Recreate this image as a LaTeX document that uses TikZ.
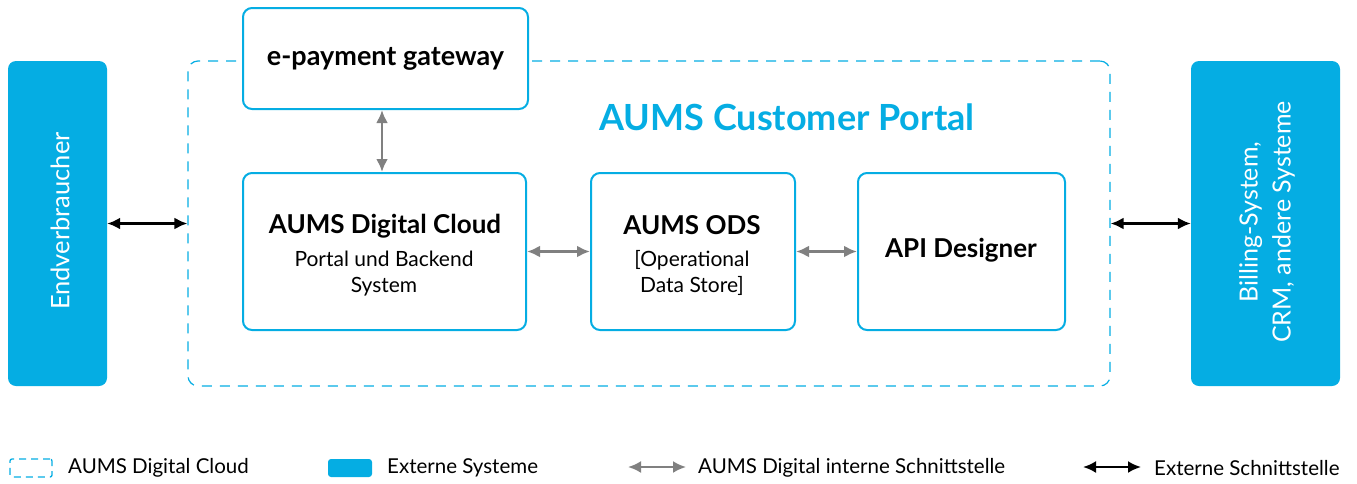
\documentclass[tikz,border=0pt]{standalone}
\usepackage{fontspec}
\setmainfont{Lato}
\usetikzlibrary{arrows.meta}
\definecolor{cy}{HTML}{05ADE3}
\definecolor{gr}{HTML}{808080}
\tikzset{
  ext/.style={rectangle, rounded corners=8pt, fill=cy, draw=none, text=white, inner sep=0pt},
  comp/.style={rectangle, rounded corners=9pt, draw=cy, line width=2pt, fill=white, inner sep=0pt, align=center},
  portalbox/.style={rectangle, rounded corners=10pt, draw=cy, line width=1.2pt, dash pattern=on 10pt off 8pt, inner sep=0pt},
  intarrow/.style={draw=gr, line width=2.6pt, {Latex[length=13pt,width=12pt]}-{Latex[length=13pt,width=12pt]}},
  extarrow/.style={draw=black, line width=2.4pt, {Latex[length=13pt,width=12pt]}-{Latex[length=13pt,width=12pt]}},
  ttl/.style={font=\bfseries\fontsize{26}{30}\selectfont},
  sub/.style={font=\fontsize{21}{26}\selectfont},
  leg/.style={font=\fontsize{20.5}{22}\selectfont, anchor=west, inner sep=0pt}
}
\begin{document}
\begin{tikzpicture}[x=1pt,y=-1pt]
\useasboundingbox (0,0) rectangle (1357,483);
% external systems
\node[ext, minimum width=99pt, minimum height=325pt] (endv) at (57.5,223.5) {};
\node[text=white, rotate=90, font=\fontsize{25.5}{28}\selectfont] (endvt) at (60,221) {Endverbraucher};
\node[ext, minimum width=149pt, minimum height=325pt] (bill) at (1265.5,223.5) {};
\node[text=white, rotate=90, align=center, font=\fontsize{25}{33}\selectfont] (billt) at (1267,222) {Billing-System,\\CRM, andere Systeme};
% portal
\node[portalbox, minimum width=922pt, minimum height=325pt] (portal) at (649,223.5) {};
\node[text=cy, font=\bfseries\fontsize{36}{40}\selectfont] (ptitle) at (787,117) {AUMS Customer Portal};
% components
\node[comp, minimum width=285pt, minimum height=101pt] (epay) at (385.5,58.5) {\textbf{\fontsize{27}{30}\selectfont e-payment gateway}};
\node[comp, minimum width=283pt, minimum height=157pt] (adc) at (384.5,251.5) {};
\node[ttl] (adct) at (385,226) {AUMS Digital Cloud};
\node[sub, align=center] (adcs) at (384,274) {Portal und Backend\\System};
\node[comp, minimum width=204pt, minimum height=157pt] (ods) at (693,251.5) {};
\node[ttl] (odst) at (692,225) {AUMS ODS};
\node[sub, align=center] (odss) at (692,273) {[Operational\\Data Store]};
\node[comp, minimum width=207pt, minimum height=157pt] (api) at (961.5,251.5) {};
\node[ttl] (apit) at (961,250) {API Designer};
% connectors
\draw[intarrow] (epay.south -| 382,0) -- (adc.north -| 382,0);
\draw[intarrow] (adc.east) -- (ods.west);
\draw[intarrow] (ods.east) -- (api.west);
\draw[extarrow] (endv.east) -- (portal.west);
\draw[extarrow] (portal.east) -- (bill.west);
% legend
\node[portalbox, line width=1.3pt, dash pattern=on 7pt off 5pt, rounded corners=2pt, minimum width=42pt, minimum height=18pt] (l1) at (31,468) {};
\node[leg] (l1t) at (68,468) {AUMS Digital Cloud};
\node[ext, rounded corners=3pt, minimum width=44pt, minimum height=18pt] (l2) at (350,468) {};
\node[leg] (l2t) at (387,468) {Externe Systeme};
\coordinate (l3a) at (628,467);
\coordinate (l3b) at (686,467);
\draw[intarrow, line width=2.2pt] (l3a) -- (l3b);
\node[leg] (l3t) at (698,468) {AUMS Digital interne Schnittstelle};
\coordinate (l4a) at (1083,467);
\coordinate (l4b) at (1141,467);
\draw[extarrow, line width=2.2pt] (l4a) -- (l4b);
\node[leg] (l4t) at (1154,468) {Externe Schnittstelle};
\end{tikzpicture}
\end{document}
